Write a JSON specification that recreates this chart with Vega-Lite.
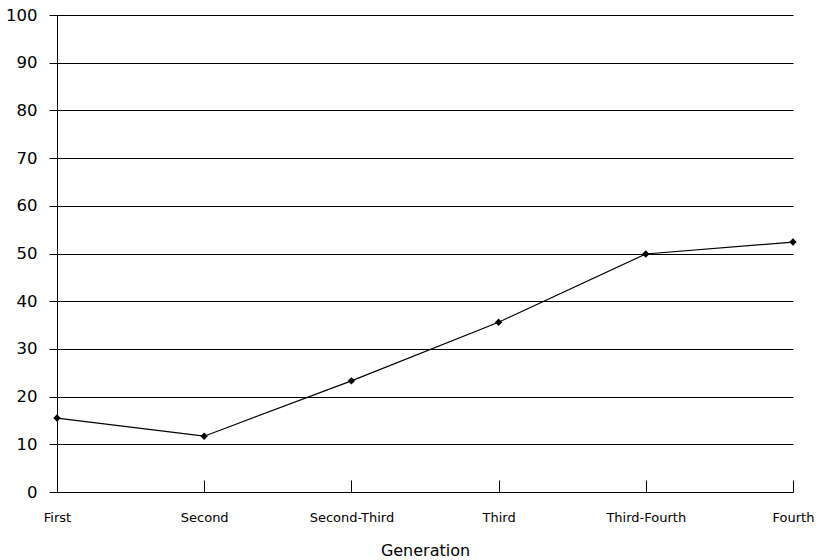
{
  "$schema": "https://vega.github.io/schema/vega-lite/v6.json",
  "autosize": "none",
  "width": 736,
  "height": 477,
  "padding": {"left": 57, "top": 15, "right": 27, "bottom": 68},
  "background": "white",
  "config": {"view": {"stroke": null}},
  "data": {"values": [
    {"generation": "First", "value": 15.5},
    {"generation": "Second", "value": 11.7},
    {"generation": "Second-Third", "value": 23.3},
    {"generation": "Third", "value": 35.6},
    {"generation": "Third-Fourth", "value": 49.9},
    {"generation": "Fourth", "value": 52.4}
  ]},
  "encoding": {
    "x": {"field": "generation", "type": "ordinal", "sort": null,
      "scale": {"type": "point", "padding": 0},
      "axis": {"title": "Generation", "labelAngle": 0, "labelFont": "DejaVu Sans", "labelFontSize": 13, "labelColor": "black",
        "labelPadding": 37, "labelBaseline": "middle", "tickSize": -12, "tickColor": "black", "domainColor": "black", "grid": false,
        "titleFont": "DejaVu Sans", "titleFontSize": 16, "titleFontWeight": "normal", "titleColor": "black", "titlePadding": 18}},
    "y": {"field": "value", "type": "quantitative",
      "scale": {"domain": [0, 100], "nice": false},
      "axis": {"title": null, "values": [0,10,20,30,40,50,60,70,80,90,100], "labelFont": "DejaVu Sans", "labelFontSize": 16.5, "labelColor": "black",
        "labelPadding": 12, "tickSize": 8, "tickColor": "black", "domainColor": "black", "gridColor": "black", "gridOpacity": 1, "gridWidth": 1}}
  },
  "layer": [
    {"mark": {"type": "line", "color": "black", "strokeWidth": 1.2}},
    {"mark": {"type": "point", "shape": "diamond", "filled": true, "color": "black", "opacity": 1, "size": 55}}
  ]
}
